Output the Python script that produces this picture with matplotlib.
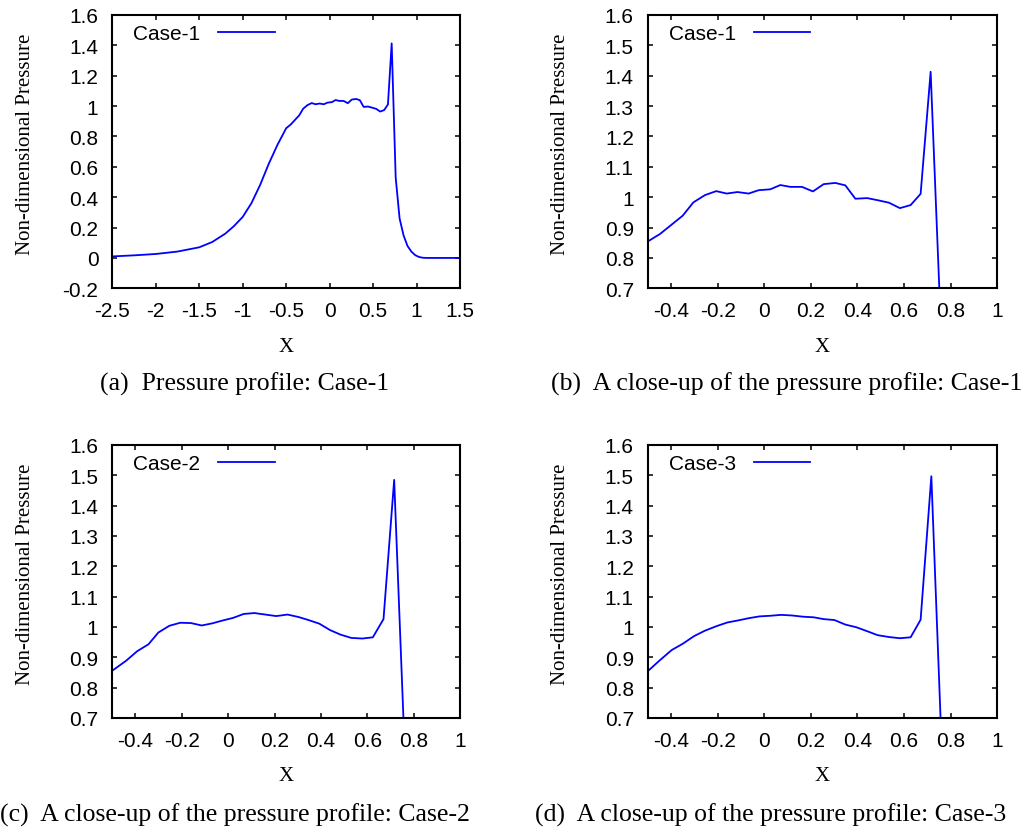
import numpy as np
import matplotlib
matplotlib.use("Agg")
import matplotlib.pyplot as plt
from matplotlib.ticker import FuncFormatter

# ---------------- data ----------------
case1_x = [-2.5, -2.25, -2.0, -1.75, -1.5, -1.35, -1.2, -1.1, -1.0, -0.9, -0.8, -0.7,
           -0.6, -0.5, -0.447, -0.35, -0.304, -0.254, -0.206, -0.161, -0.115, -0.067,
           -0.024, 0.026, 0.069, 0.112, 0.162, 0.209, 0.255, 0.305, 0.348, 0.391,
           0.442, 0.487, 0.535, 0.582, 0.628, 0.671, 0.714, 0.76, 0.805, 0.85, 0.895,
           0.94, 0.985, 1.03, 1.075, 1.12, 1.5]
case1_p = [0.010, 0.017, 0.026, 0.042, 0.070, 0.105, 0.160, 0.210, 0.270, 0.360, 0.480, 0.620,
           0.745, 0.854, 0.879, 0.939, 0.983, 1.007, 1.020, 1.012, 1.017, 1.012,
           1.023, 1.026, 1.040, 1.034, 1.034, 1.019, 1.043, 1.047, 1.039, 0.995,
           0.997, 0.990, 0.982, 0.964, 0.974, 1.011, 1.413, 0.53, 0.26, 0.15, 0.08,
           0.042, 0.018, 0.006, 0.001, 0.0, 0.0]

case2_x = [-0.5, -0.44, -0.393, -0.344, -0.301, -0.254, -0.207, -0.161, -0.114, -0.069,
           -0.026, 0.021, 0.067, 0.113, 0.16, 0.207, 0.256, 0.303, 0.346, 0.393, 0.439,
           0.484, 0.531, 0.579, 0.624, 0.670, 0.716, 0.76, 0.805]
case2_p = [0.856, 0.889, 0.920, 0.943, 0.982, 1.004, 1.014, 1.013, 1.005, 1.012,
           1.021, 1.030, 1.043, 1.046, 1.041, 1.036, 1.041, 1.033, 1.023, 1.011, 0.990,
           0.975, 0.964, 0.962, 0.966, 1.026, 1.485, 0.62, 0.30]

case3_x = [-0.5, -0.45, -0.397, -0.347, -0.301, -0.254, -0.204, -0.158, -0.110, -0.067,
           -0.020, 0.026, 0.072, 0.119, 0.166, 0.212, 0.255, 0.301, 0.348, 0.396, 0.442,
           0.487, 0.535, 0.582, 0.628, 0.671, 0.717, 0.76, 0.805]
case3_p = [0.854, 0.889, 0.924, 0.946, 0.970, 0.988, 1.003, 1.015, 1.022, 1.029,
           1.035, 1.037, 1.040, 1.038, 1.034, 1.032, 1.026, 1.023, 1.008, 0.999, 0.986,
           0.973, 0.967, 0.963, 0.966, 1.024, 1.497, 0.63, 0.30]

full_xticks = [-2.5, -2.0, -1.5, -1.0, -0.5, 0.0, 0.5, 1.0, 1.5]
full_yticks = [-0.2, 0.0, 0.2, 0.4, 0.6, 0.8, 1.0, 1.2, 1.4, 1.6]
zoom_xticks = [-0.4, -0.2, 0.0, 0.2, 0.4, 0.6, 0.8, 1.0]
zoom_yticks = [0.7, 0.8, 0.9, 1.0, 1.1, 1.2, 1.3, 1.4, 1.5, 1.6]

captions = ["(a)  Pressure profile: Case-1",
            "(b)  A close-up of the pressure profile: Case-1",
            "(c)  A close-up of the pressure profile: Case-2",
            "(d)  A close-up of the pressure profile: Case-3"]
legend_labels = ["Case-1", "Case-1", "Case-2", "Case-3"]

# ---------------- style ----------------
plt.rcParams['axes.unicode_minus'] = False
SANS = 'Liberation Sans'
SERIF = 'Liberation Serif'
W, H = 1024, 837
fig = plt.figure(figsize=(W / 100, H / 100), dpi=100)

def px_axes(left, top, right, bottom):
    return fig.add_axes([left / W, 1 - bottom / H, (right - left) / W, (bottom - top) / H])

boxes = [(112.3, 16, 460, 289.3), (647.7, 16, 997.3, 289.3),
         (112.3, 446, 460, 719), (647.7, 446, 997.3, 719)]

series = [(case1_x, case1_p), (case1_x, case1_p), (case2_x, case2_p), (case3_x, case3_p)]
fmt = FuncFormatter(lambda v, pos: '%g' % round(v, 6))

for i, (box, (xs, ps)) in enumerate(zip(boxes, series)):
    ax = px_axes(*box)
    ax.plot(xs, ps, color='#0000ff', lw=1.3, label=legend_labels[i])
    if i == 0:
        ax.set_xlim(-2.5, 1.5)
        ax.set_ylim(-0.2, 1.6)
        ax.set_xticks(full_xticks)
        ax.set_yticks(full_yticks)
    else:
        ax.set_xlim(-0.5, 1.0)
        ax.set_ylim(0.7, 1.6)
        ax.set_xticks(zoom_xticks)
        ax.set_yticks(zoom_yticks)
    ax.xaxis.set_major_formatter(fmt)
    ax.yaxis.set_major_formatter(fmt)
    for s in ax.spines.values():
        s.set_linewidth(1.5)
    ax.tick_params(direction='in', top=True, right=True, length=3.5, width=1.1,
                   labelsize=15, colors='black')
    ax.tick_params(axis='x', pad=9.5)
    ax.tick_params(axis='y', pad=10)
    for lab in ax.get_xticklabels() + ax.get_yticklabels():
        lab.set_fontfamily(SANS)
    ax.set_xlabel('X', family=SERIF, fontsize=15)
    ax.xaxis.set_label_coords(0.5, -0.212)
    ax.xaxis.label.set_va('center')
    ax.set_ylabel('Non-dimensional Pressure', family=SERIF, fontsize=15)
    ax.yaxis.set_label_coords(-0.25, 0.53)
    ax.yaxis.label.set_va('center')
    ax.legend(loc='upper left', bbox_to_anchor=(0.06, 0.967), frameon=False,
              markerfirst=False, handlelength=2.7, handletextpad=0.87,
              borderpad=0, borderaxespad=0, prop={'family': SANS, 'size': 15})

# caption anchor points (pixels) and alignment
cap_pos = [(245, 391, 'center'), (1022, 391, 'right'), (0, 822, 'left'), (535, 822, 'left')]
for (cx, cy, ha), txt in zip(cap_pos, captions):
    fig.text(cx / W, 1 - cy / H, txt, family=SERIF, fontsize=18.5,
             ha=ha, va='baseline')

fig.savefig('out.png', dpi=100)
